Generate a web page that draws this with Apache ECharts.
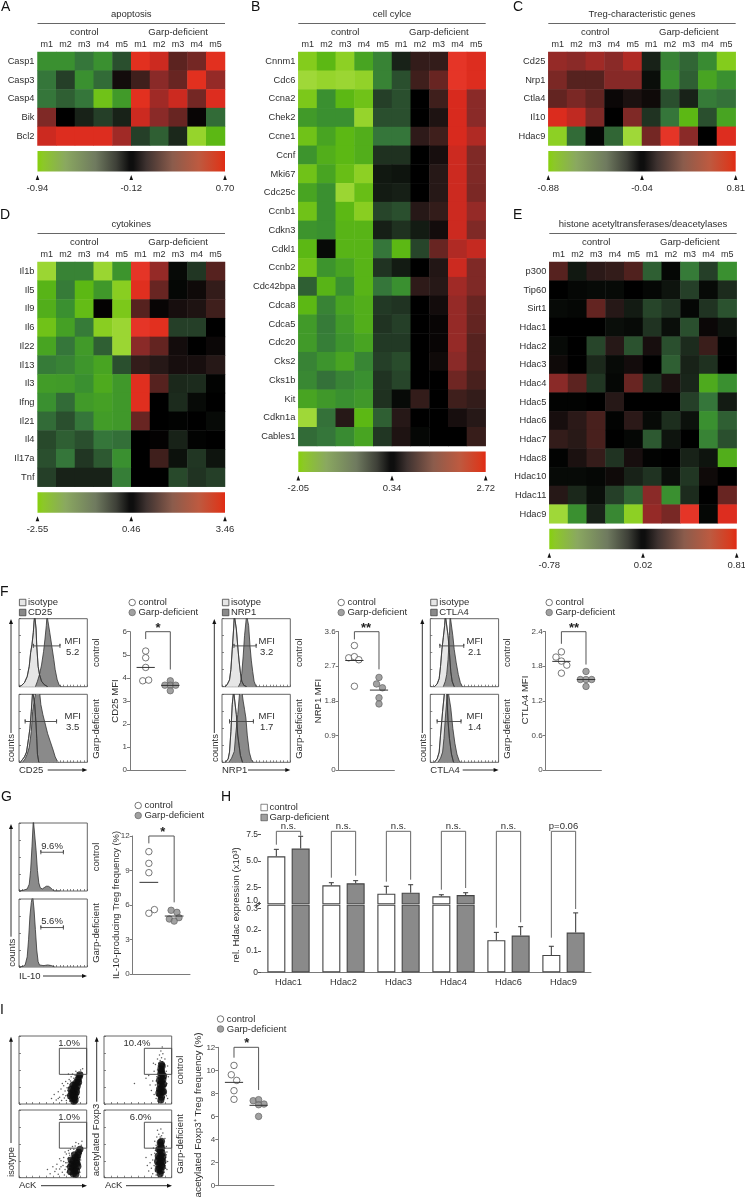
<!DOCTYPE html>
<html><head><meta charset="utf-8">
<style>html,body{margin:0;padding:0;background:#fff}#c{width:745px;height:1197px}</style>
<script src="https://cdn.jsdelivr.net/npm/echarts@6/dist/echarts.min.js"></script>
</head><body><div id="c"></div>
<script>
// ---------- DATA ----------
const mice=['m1','m2','m3','m4','m5','m1','m2','m3','m4','m5'];
// heat levels: -10 brightest green, 0 black, +10 brightest red
const genesA=['Casp1','Casp3','Casp4','Bik','Bcl2'];
const heatA=[
[-5,-5,-4,-5,-2.5,9,7.5,3,4,9],
[-4,-2,-5,-3.5,.5,2,5,3.5,9,5.5],
[-4,-3,-4,-7.5,-5.5,9,6,7.5,4,8.5],
[4.5,0,-1,-2,-1,7.5,5,3.5,.2,-3.5],
[7.5,8.5,8.5,8.5,6,-2,-3,-1.2,-9,-7]];
const genesB=['Cnnm1','Cdc6','Ccna2','Chek2','Ccne1','Ccnf','Mki67','Cdc25c','Ccnb1','Cdkn3','Cdkl1','Ccnb2','Cdc42bpa','Cdca8','Cdca5','Cdc20','Cks2','Cks1b','Kit','Cdkn1a','Cables1'];
const heatB=[
[-8,-7,-8.5,-6,-4.5,-1,1.5,1.5,9.5,8.5],
[-9.5,-9,-9.3,-8.8,-4.5,-2.5,2,3.5,9.5,8.5],
[-7.8,-5,-7,-7.5,-2,-2.5,0,2,8,5],
[-5.5,-5,-5,-9,-2.5,-2.5,0,.8,8,5],
[-7.5,-6,-7,-6.5,-4,-4,1.3,2,8,6.5],
[-5.2,-6.5,-7,-6.5,-1.5,-1.5,0,.6,7.5,4.5],
[-7.5,-6,-7.3,-8.5,-.7,-.6,0,1,7.5,4.5],
[-6,-5,-9.3,-7.3,-.8,-.9,0,1,7.5,4.3],
[-7.5,-5,-7,-8.3,-2.2,-2.5,1,1.5,7.5,5.5],
[-5.2,-5,-6.8,-6.8,-.9,-1.5,-.8,.5,7.5,4.5],
[-7,-.3,-6.8,-6.8,-4,-7,-2.2,3.5,6.5,7.2],
[-7.5,-5.2,-6,-6.8,-1.6,-.8,0,.9,7.5,4.5],
[-3,-6.8,-5,-6.8,-4,-5,1.3,1,6,4.5],
[-7,-4.5,-6,-6.5,-1.8,-1.6,0,.5,5.5,3.5],
[-5.5,-4.2,-5.5,-6.5,-1.6,-2,0,.2,5.5,3.3],
[-5.5,-4.3,-5.2,-6,-1.8,-1.8,0,.2,5.5,2.8],
[-4.5,-5.2,-6,-4.6,-2,-2.4,0,.4,5,2.8],
[-4.7,-3.8,-4.5,-5,-1.6,-2.2,0,0,3.8,2.3],
[-6,-5.4,-5,-5.4,-1.5,-.3,1.5,0,2,1.5],
[-9.5,-3.8,1,-7,-3,1,0,0,.6,1],
[-3.5,-4,-4.8,-6,-1.7,.8,-.2,0,0,1.7]];
const genesC=['Cd25','Nrp1','Ctla4','Il10','Hdac9'];
const heatC=[
[5.5,5,6,5,6.5,-1,-4.5,-3.3,-4.8,-8],
[4.3,2.8,2.8,4.8,4.8,-.4,-5,-3,-6,-5],
[3.3,4.3,3.2,.3,.7,.4,-2.5,-1,-4.2,-3.8],
[8.3,7,4.5,0,4.5,-1.6,-4,-7,-2.5,-6],
[-8.5,-3.5,-.2,-3.3,-9.5,4,9.5,5,0,8.5]];
const genesD=['Il1b','Il5','Il9','Il6','Il22','Il13','Il3','Ifng','Il21','Il4','Il17a','Tnf'];
const heatD=[
[-9.3,-4.5,-4.5,-9.2,-5.2,9.5,5.5,-.3,-1.7,2.8],
[-6.8,-4.2,-7,-5.4,-8.3,8.8,3.5,-.2,.4,1.5],
[-6.5,-5,-7.2,.1,-7.8,2.8,.2,.6,.8,2],
[-7.5,-5.8,-4.2,-8.3,-9.3,9.5,9,-2,-2,0],
[-6,-4,-5.5,-3,-9.3,5,3.3,.5,0,.3],
[-4.2,-4.5,-5.3,-6,-2.5,1.5,1,.6,.6,1],
[-5.6,-5.5,-5,-6.3,-5.4,8.8,2.8,-1.2,-1.3,-.1],
[-5,-3.5,-5.5,-5.8,-5.4,8.8,0,-1.3,-.3,0],
[-3.5,-2.5,-4,-5.6,-5.4,3.5,0,-.1,0,-.3],
[-2.3,-3,-2.5,-4,-3.7,0,.1,-1,-.1,0],
[-2.5,-4,-1.7,-2.8,-5,0,2,-.5,-1.7,-.6],
[-2,-1,-1,-1,-4.3,0,0,-2.3,-1.6,-2]];
const genesE=['p300','Tip60','Sirt1','Hdac1','Hdac2','Hdac3','Hdac4','Hdac5','Hdac6','Hdac7','Hdac8','Hdac10','Hdac11','Hdac9'];
const heatE=[
[2.8,-.7,1.2,1.5,2.6,-3,-.2,-4.2,-2,-5],
[0,-.2,-.3,-.3,0,-.2,-.6,-2,-.3,-1.3],
[-.3,-.2,3.3,1,-.8,-2.2,-1.6,-.2,-1.6,-2.6],
[0,0,0,-.4,-.3,-1.6,-.4,-2.5,.3,-.6],
[-.3,0,-2.2,1,-2.6,.6,-2.5,-1.3,1.8,-.1],
[.4,0,-1.2,-.3,.5,0,-3,-1,-1.5,0],
[5,3,-1.7,-.2,3.5,-1.5,.7,-1.1,-6.3,-5],
[-.1,-.1,0,1,0,0,0,-2,-4,-.8],
[.6,1.2,2.3,-.1,1.2,-.3,-1.4,-.5,-5,-3],
[1.5,1.1,2.3,0,-.2,-2.8,-.6,0,-4.5,-2.5],
[-.1,.7,1.6,-1.6,.6,-.1,0,-1,-.6,-6.5],
[-.3,-.3,-.2,.4,-1,-1.6,-.4,-1.7,.4,0],
[1,-1.2,-.4,-2,-3.2,5,-5,-1.3,0,3.5],
[-9.5,-5,-1,-4.7,-8.5,5.5,4.2,9.5,-.2,8.5]];
const scaleA=['-0.94','-0.12','0.70'], scaleB=['-2.05','0.34','2.72'], scaleC=['-0.88','-0.04','0.81'], scaleD=['-2.55','0.46','3.46'], scaleE=['-0.78','0.02','0.81'];

// histograms [fluorescence %, height %]
const cd25CtrlIso=[[0,0],[4,2],[8,6],[12,15],[15,30],[17,50],[19,62],[21,80],[22,95],[23,105],[24,105],[25,85],[26,60],[28,30],[30,18],[33,8],[37,3],[42,0]];
const cd25CtrlStain=[[24,0],[27,8],[30,18],[33,32],[36,52],[38,70],[40,90],[41,105],[43,105],[45,80],[48,60],[51,40],[53,25],[56,10],[59,2],[62,0]];
const cd25GarpIso=[[2,0],[5,4],[8,8],[11,15],[14,35],[16,50],[18,75],[20,105],[22,105],[23,85],[25,55],[26,35],[27,12],[29,0]];
const cd25GarpStain=[[5,0],[9,5],[12,12],[15,22],[18,45],[20,75],[23,95],[25,105],[30,105],[32,85],[35,70],[38,58],[42,42],[46,30],[50,18],[53,8],[56,2],[58,0]];
const nrp1CtrlIso=[[5,0],[8,4],[11,10],[13,25],[15,55],[17,85],[18,105],[20,105],[21,85],[23,60],[25,38],[27,20],[29,8],[32,2],[36,0]];
const nrp1CtrlStain=[[24,0],[27,6],[29,20],[31,45],[33,75],[35,95],[36,105],[38,105],[39,90],[41,60],[43,38],[45,22],[47,8],[50,0]];
const nrp1GarpIso=[[5,0],[9,5],[11,15],[13,45],[15,85],[17,105],[19,105],[21,70],[23,40],[25,25],[27,10],[30,0]];
const nrp1GarpStain=[[10,0],[14,6],[18,16],[20,40],[23,70],[26,105],[29,105],[31,90],[33,78],[35,65],[37,40],[40,15],[43,4],[46,0]];
const ctla4CtrlIso=[[6,0],[10,4],[13,12],[15,30],[17,55],[19,72],[21,90],[22,105],[24,105],[26,75],[28,50],[30,22],[32,8],[35,0]];
const ctla4CtrlStain=[[19,0],[22,8],[24,18],[26,40],[28,75],[29,105],[31,105],[33,75],[35,55],[38,35],[41,18],[44,6],[47,0]];
const ctla4GarpIso=[[6,0],[10,5],[13,15],[15,40],[18,75],[21,105],[24,105],[26,60],[28,35],[31,12],[34,0]];
const ctla4GarpStain=[[11,0],[15,6],[18,15],[20,35],[22,65],[24,90],[26,105],[28,105],[30,80],[33,50],[36,28],[39,12],[42,3],[44,0]];
const il10CtrlHist=[[0,0],[6,1],[12,3],[15,10],[17,30],[19,65],[21,105],[23,105],[25,60],[27,30],[29,12],[31,5],[34,3],[37,5],[40,7],[43,7],[46,5],[49,2],[52,0],[60,0]];
const il10GarpHist=[[0,0],[6,1],[9,3],[12,15],[14,40],[16,75],[18,95],[20,105],[22,85],[24,55],[26,25],[28,8],[30,3],[36,2],[42,3],[48,2],[52,0]];
// gates [x0,x1,y]
const gatesF=[[21,60,60],[9,55,60],[17.5,50,60],[11,46,60],[14,49,60],[10,45,60]];
const gatesG=[[32,65,57],[32,65,58]];
const mfiText=['5.2','3.5','3.2','1.7','2.1','1.4'];
const il10Text=['9.6%','5.6%'];

// strip plots
const cd25Ctrl=[[1,5.16],[1,4.87],[1,4.45],[.88,3.87],[1.12,3.9]], cd25Garp=[[2,3.87],[1.78,3.68],[2,3.68],[2.22,3.68],[2,3.44]];
const nrp1Ctrl=[[1,3.24],[.77,2.92],[1,2.95],[1.18,2.87],[1,2.18]], nrp1Garp=[[2,2.41],[1.9,2.24],[2.14,2.14],[2,1.88],[2,1.72]];
const ctla4Ctrl=[[1,2.05],[.78,1.96],[1,1.89],[1.22,1.82],[1,1.68]], ctla4Garp=[[2,1.71],[1.77,1.57],[2,1.57],[2.23,1.57],[2,1.45]];
const il10Ctrl=[[1,10.64],[1,9.62],[1,8.81],[1,5.28],[1.22,5.6]], il10Garp=[[1.88,5.54],[2.11,5.36],[2.19,4.9],[1.81,4.78],[2,4.6]];
const ackCtrl=[[1,10.43],[.89,9.62],[1.11,9.13],[1,8.24],[1,7.49]], ackGarp=[[1.78,7.37],[2,7.46],[2.22,7.08],[2,7.02],[2,6.01]];
const means={cd25:[4.45,3.67],nrp1:[2.85,2.08],ctla4:[1.885,1.57],il10:[7.97,5.04],ack:[8.96,6.97]};
const brackets={cd25:[5.68,6,4.36],nrp1:[3.4,3.6,2.62],ctla4:[2.19,2.4,1.83],il10:[11.36,12,6.23],ack:[11.1,12,8.3]};

// Hdac bars
const hdacNames=['Hdac1','Hdac2','Hdac3','Hdac4','Hdac6','Hdac9'];
const hdacCtrl=[5.44,2.72,1.94,1.69,.151,.082], hdacCtrlErr=[6.09,2.97,2.63,1.84,.188,.1225];
const hdacGarp=[6.16,2.91,2.03,1.81,.173,.187], hdacGarpErr=[7.31,3.16,2.78,2.03,.215,.28];
const hdacSig=['n.s.','n.s.','n.s.','n.s.','n.s.','p=0.06'];

// flow dot plots [AcK %, y %], read by eye: dense core + sparse outliers
const gateI=[[59.6,43.6],[100,43.6],[100,81.9],[59.6,81.9],[59.6,43.6]];
const isoTopCore=[[79,8],[80,12],[81,16],[80,20],[82,24],[83,28],[85,32],[87,36],[89,40],[84,22],[85,18],[83,14],[82,10],[78,16],[77,22],[80,28],[86,26],[88,32],[76,12],[83,6],[81,4],[90,43]];
const isoTopDots=[[48,8],[52,14],[55,6],[58,18],[60,10],[62,22],[63,5],[65,14],[66,27],[67,9],[68,19],[69,33],[70,5],[71,13],[71,24],[72,30],[73,8],[73,18],[74,36],[75,4],[75,11],[75,28],[76,34],[77,5],[77,40],[78,8],[79,32],[79,44],[80,5],[81,38],[82,3],[83,42],[84,48],[85,7],[86,13],[87,17],[88,24],[88,30],[89,10],[90,28],[91,36],[91,50],[92,40],[93,46],[94,52],[86,46],[69,12],[64,30],[58,8],[73,44],[74,16],[74,24],[73,12],[72,20],[76,6],[90,34],[91,30],[89,22],[92,34],[87,8],[88,14]];
const isoBotCore=[[80,6],[82,10],[83,14],[81,18],[84,22],[85,26],[86,30],[87,34],[88,38],[90,42],[79,14],[78,20],[80,25],[83,30],[86,21],[87,17],[85,10],[76,9],[77,26],[82,34],[84,5],[76,16]];
const isoBotDots=[[42,12],[46,6],[50,16],[53,9],[56,20],[58,5],[60,13],[62,25],[64,8],[65,18],[66,30],[67,4],[68,12],[69,22],[70,35],[71,8],[72,17],[72,28],[73,40],[74,5],[74,13],[75,33],[76,42],[77,5],[78,36],[79,46],[80,4],[81,42],[83,47],[84,52],[85,4],[87,8],[88,14],[89,22],[90,30],[91,38],[92,48],[93,54],[94,44],[88,50],[55,13],[60,28],[68,38],[70,16],[90,8],[74,24],[62,16],[66,24],[72,10],[71,22],[73,30],[74,36],[90,20],[91,26],[92,36],[89,12]];
const ackTopCore=[[84,6],[85,10],[83,14],[86,18],[84,22],[86,26],[83,29],[85,33],[87,36],[84,40],[86,44],[85,48],[84,52],[86,56],[82,22],[88,29],[82,35],[88,41],[81,16],[88,18],[85,58],[84,46]];
const ackTopDots=[[62,38],[45,30],[70,20],[72,34],[74,14],[74,48],[76,28],[76,58],[77,8],[78,40],[78,20],[79,50],[79,66],[80,30],[80,4],[81,60],[82,72],[83,64],[84,78],[85,3],[85,68],[86,62],[87,74],[88,58],[89,10],[89,50],[90,66],[90,26],[91,38],[91,16],[92,48],[93,30],[94,56],[94,8],[95,40],[73,60],[68,28],[66,42],[86,84],[82,52],[78,12],[77,34],[79,44],[80,56],[91,22],[91,44],[92,12],[92,28]];
const ackBotCore=[[83,6],[84,10],[82,14],[85,18],[83,22],[85,26],[82,29],[84,33],[86,36],[83,40],[85,44],[84,48],[83,52],[81,20],[87,24],[80,32],[86,16],[80,12],[87,31],[81,42],[85,54],[79,24]];
const ackBotDots=[[66,10],[68,22],[70,14],[70,34],[72,6],[72,26],[73,44],[74,18],[75,36],[75,54],[76,10],[76,28],[77,48],[77,4],[78,60],[78,22],[79,38],[79,70],[80,52],[80,8],[81,64],[82,5],[83,60],[84,72],[85,3],[85,62],[86,54],[87,66],[88,48],[89,8],[89,40],[90,58],[90,18],[91,30],[92,46],[93,12],[93,38],[94,24],[62,30],[64,18],[76,16],[76,40],[77,30],[78,44],[91,14],[91,22],[92,34],[90,44]];

// ---------- BUILDERS ----------
const FF='"Liberation Sans",Arial,Helvetica,sans-serif', INK='#2e2e2e', AX='#7a7a7a';
const grids=[],xAxes=[],yAxes=[],series=[],legends=[],gfx=[];
function addGrid(r,xa,ya){const i=grids.length;grids.push({left:r[0],top:r[1],width:r[2],height:r[3],show:!!r[4],borderColor:r[4]||undefined,borderWidth:1,backgroundColor:'transparent'});
  xAxes.push(Object.assign({gridIndex:i},xa));yAxes.push(Object.assign({gridIndex:i},ya));return i;}
function T(t,x,y,o={}){gfx.push({type:'text',x,y,rotation:o.rot||0,silent:true,z:50,style:{text:t,fontSize:o.size||9.5,fontWeight:o.bold?'bold':'normal',fontFamily:FF,fill:o.color||INK,textAlign:o.align||'center',textVerticalAlign:'middle'}});}
function L(pts,o={}){gfx.push({type:'polyline',silent:true,z:o.z||40,shape:{points:pts},style:{stroke:o.color||'#555',lineWidth:o.w||1,fill:'none'}});}
function P(pts,c){gfx.push({type:'polygon',silent:true,z:40,shape:{points:pts},style:{fill:c||'#111'}});}
function arrowUp(x,yb,yt){L([[x,yb],[x,yt+3]],{color:'#333'});P([[x,yt],[x-2,yt+5],[x+2,yt+5]]);}
function arrowRight(xa,xb,y){L([[xa,y],[xb-3,y]],{color:'#333'});P([[xb,y],[xb-5,y-2],[xb-5,y+2]]);}
const ROT=Math.PI/2;
const heatIdx=[];
function heat(title,genes,z,scale,r){
  const [x,y,w,h]=r, g=addGrid([x,y,w,h],
    {type:'category',data:mice,position:'top',axisLine:{show:false},axisTick:{show:false},splitLine:{show:false},splitArea:{show:false},axisLabel:{interval:0,margin:2.5,fontSize:9,fontFamily:FF,color:INK}},
    {type:'category',data:genes,inverse:true,axisLine:{show:false},axisTick:{show:false},splitLine:{show:false},splitArea:{show:false},axisLabel:{interval:0,margin:3,fontSize:9.3,fontFamily:FF,color:INK}});
  const data=[];z.forEach((row,ri)=>row.forEach((v,ci)=>data.push([ci,ri,v])));
  heatIdx.push(series.length);
  series.push({type:'heatmap',name:title,xAxisIndex:g,yAxisIndex:g,data,silent:true,itemStyle:{borderWidth:0},progressive:0});
  T(title,x+w/2,y-38); L([[x,y-28.5],[x+w,y-28.5]],{color:'#666',w:1});
  T('control',x+w/4,y-20); T('Garp-deficient',x+3*w/4,y-20);
  const b=y+h+5.5,bh=20.5;
  gfx.push({type:'rect',silent:true,shape:{x,y:b,width:w,height:bh},style:{fill:new echarts.graphic.LinearGradient(0,0,1,0,[
    {offset:0,color:'#86cf0e'},{offset:.03,color:'#8cc828'},{offset:.15,color:'#8aa860'},{offset:.31,color:'#6f7a5f'},{offset:.42,color:'#3e4038'},{offset:.49,color:'#0e0e0e'},{offset:.51,color:'#0e0e0e'},{offset:.58,color:'#3e3230'},{offset:.72,color:'#8b5c4c'},{offset:.86,color:'#bd5a40'},{offset:.97,color:'#d93a1e'},{offset:1,color:'#e02a14'}])}});
  [0,.5,1].forEach((f,i)=>{const tx=x+w*f;P([[tx,b+bh+3.5],[tx-1.8,b+bh+8.5],[tx+1.8,b+bh+8.5]]);T(scale[i],tx,b+bh+16.5,{size:9.5});});
}
function histAxes(){return [
  {type:'value',min:0,max:100,interval:5,axisLine:{show:false},axisTick:{show:true,inside:true,length:2,lineStyle:{color:'#555',width:.7}},axisLabel:{show:false},splitLine:{show:false}},
  {type:'value',min:0,max:100,interval:25,axisLine:{show:false},axisTick:{show:true,inside:true,length:2,lineStyle:{color:'#555',width:.7}},axisLabel:{show:false},splitLine:{show:false}}];}
function area(g,name,pts,fill,line,w){series.push({type:'line',name,xAxisIndex:g,yAxisIndex:g,data:pts,symbol:'none',silent:true,lineStyle:{color:line,width:w===undefined?.8:w},itemStyle:{color:fill},areaStyle:fill?{color:fill,opacity:1}:undefined});}
function lineS(g,pts,o={}){series.push({type:'line',xAxisIndex:g,yAxisIndex:g,data:pts,symbol:'none',silent:true,clip:false,lineStyle:{color:o.color||'#333',width:o.w||1},z:o.z||3});}
function gateLine(g,gt){const [a,b,y]=gt,c=3;lineS(g,[[a,y-c],[a,y+c],[a,y],[b,y],[b,y+c],[b,y-c]],{color:'#444',w:.9,z:5});}
function hist(r,iso,stain,gt,stName){
  const [a,b]=histAxes(),g=addGrid(r.concat('#666'),a,b);
  area(g,'isotype',iso,'#e6e6e6','#444');
  area(g,stName,stain,'#8a8a8a','#333');
  area(g,'isotype outline',iso,null,'#333',.8);
  gateLine(g,gt);
}
function squareLegend(x,y,names,cols){legends.push({left:x,top:y,orient:'vertical',padding:0,itemGap:0,itemWidth:6.5,itemHeight:6.5,icon:'rect',selectedMode:false,textStyle:{fontSize:9.5,fontFamily:FF,color:INK,padding:[0,0,0,-3]},
  data:names.map((n,i)=>({name:n,icon:'rect',itemStyle:{color:cols[i],borderColor:'#444',borderWidth:.8}}))});}
function circleLegend(x,y){legends.push({left:x,top:y,orient:'vertical',padding:0,itemGap:0,itemWidth:6.5,itemHeight:6.5,selectedMode:false,textStyle:{fontSize:9.5,fontFamily:FF,color:INK,padding:[0,0,0,-2]},
  data:[{name:'control',icon:'circle',itemStyle:{color:'#fff',borderColor:'#444',borderWidth:.9}},{name:'Garp-deficient',icon:'circle',itemStyle:{color:'#8a8a8a',borderColor:'#666',borderWidth:.9}}]});}
function strip(r,ctrl,garp,yMax,yInt,mean,br,star,ylab,yl,ySize){
  const g=addGrid(r,
    {type:'value',min:r[4],max:r[5],axisLine:{show:true,onZero:false,lineStyle:{color:AX,width:1}},axisTick:{show:false},axisLabel:{show:false},splitLine:{show:false}},
    {type:'value',min:0,max:yMax,interval:yInt,axisLine:{show:true,onZero:false,lineStyle:{color:AX,width:1}},axisTick:{show:true,length:3,lineStyle:{color:AX}},axisLabel:{fontSize:8,margin:3,fontFamily:FF,color:'#444'},splitLine:{show:false}});
  grids[g].show=false;
  lineS(g,[[1,br[0]],[1,br[1]],[2,br[1]],[2,br[2]]],{color:'#555'});
  const hw=.37;
  lineS(g,[[1-hw,mean[0]],[1+hw,mean[0]]],{z:6}); lineS(g,[[2-hw,mean[1]],[2+hw,mean[1]]],{z:6});
  series.push({type:'scatter',name:'control',xAxisIndex:g,yAxisIndex:g,data:ctrl,symbol:'circle',symbolSize:6.5,silent:true,z:4,itemStyle:{color:'#fff',borderColor:'#444',borderWidth:.9}});
  series.push({type:'scatter',name:'Garp-deficient',xAxisIndex:g,yAxisIndex:g,data:garp,symbol:'circle',symbolSize:6.5,silent:true,z:4,itemStyle:{color:'#8a8a8a',borderColor:'#666',borderWidth:.9}});
  T(star[0],star[1],star[2],{size:13,bold:true,color:'#222'});
  T(ylab,yl[0],yl[1],{rot:ROT,size:ySize});
}
function flow(r,core,dots){
  const [a,b]=histAxes();a.interval=10;const g=addGrid(r.concat('#666'),a,b);
  lineS(g,gateI,{color:'#444',w:.9,z:6});
  series.push({type:'scatter',xAxisIndex:g,yAxisIndex:g,data:dots,symbol:'circle',symbolSize:1.5,silent:true,itemStyle:{color:'#333'}});
  series.push({type:'scatter',xAxisIndex:g,yAxisIndex:g,data:core,symbol:'circle',symbolSize:7,silent:true,itemStyle:{color:'#0c0c0c'}});
}
// ---------- LAYOUT ----------
heat('apoptosis',genesA,heatA,scaleA,[37.5,52,187.5,93.5]);
heat('cell cylce',genesB,heatB,scaleB,[298.3,52,187.4,394]);
heat('Treg-characteristic genes',genesC,heatC,scaleC,[548.3,52,187.4,93.5]);
heat('cytokines',genesD,heatD,scaleD,[37.5,262,187.5,224.7]);
heat('histone acetyltransferases/deacetylases',genesE,heatE,scaleE,[549.3,262,187.4,261.3]);
[['A',1,7],['B',251,7],['C',513,7],['D',0,215],['E',513,215],['F',0,592],['G',1,797],['H',221,797],['I',0,1010]].forEach(a=>T(a[0],a[1],a[2],{size:14,align:'left',color:'#111'}));

// F histograms
[[0,'CD25',cd25CtrlIso,cd25CtrlStain,cd25GarpIso,cd25GarpStain,19,132,72.7,96,11,47.7],
 [1,'NRP1',nrp1CtrlIso,nrp1CtrlStain,nrp1GarpIso,nrp1GarpStain,222,341,266.7,299.3,214.3,248],
 [2,'CTLA4',ctla4CtrlIso,ctla4CtrlStain,ctla4GarpIso,ctla4GarpStain,430.3,549,474.7,507,422.3,462.7]]
.forEach(c=>{const [i,nm,a,b,d,e,x,lc,mx,rx,ax,xa]=c;
  hist([x,618.7,68.3,68],a,b,gatesF[i*2],nm);
  hist([x,694.3,68.3,68],d,e,gatesF[i*2+1],nm);
  squareLegend(x,597.5,['isotype',nm],['#e6e6e6','#8a8a8a']);
  circleLegend(lc-3.5,597.5);
  T('MFI',mx,641);T(mfiText[i*2],mx,652);T('MFI',mx,716.7);T(mfiText[i*2+1],mx,727.7);
  T('control',rx,652.7,{rot:ROT});T('Garp-deficient',rx,729,{rot:ROT});
  arrowUp(ax,733,619);T('counts',ax+.8,748,{rot:ROT});
  T(nm,x,770,{align:'left'});arrowRight(xa,x+68.3,770);
});
const xr=[.362,2.626];
strip([130,631.7,55.7,138.3,...xr],cd25Ctrl,cd25Garp,6,1,means.cd25,brackets.cd25,['*',158,628.5],'CD25 MFI',[115,701],9.5);
strip([338.7,631.7,55.7,138.3,...xr],nrp1Ctrl,nrp1Garp,3.6,.9,means.nrp1,brackets.nrp1,['**',366,628.5],'NRP1 MFI',[318,701],9.5);
strip([545.7,631.7,55.7,138.3,...xr],ctla4Ctrl,ctla4Garp,2.4,.6,means.ctla4,brackets.ctla4,['**',574,628.5],'CTLA4 MFI',[525.7,700],9.5);

// G
[[823,il10CtrlHist,gatesG[0],846,il10Text[0]],[899,il10GarpHist,gatesG[1],921,il10Text[1]]].forEach(c=>{
  const [a,b]=histAxes(),g=addGrid([19,c[0],68.3,68,'#666'],a,b);
  area(g,'IL-10',c[1],'#8a8a8a','#333');gateLine(g,c[2]);T(c[4],52,c[3]);});
T('control',96.7,857,{rot:ROT});T('Garp-deficient',96.7,933,{rot:ROT});
arrowUp(11,936.7,824);T('counts',12,952.7,{rot:ROT});
T('IL-10',19,976,{align:'left'});arrowRight(43,87,976);
circleLegend(134.5,800.5);
strip([132.7,836,57.3,138,...xr],il10Ctrl,il10Garp,12,3,means.il10,brackets.il10,['*',162.7,832],'IL-10-producing Treg frequency (%)',[116,905],9.4);

// H bars
const hx=261,hw=330,catW=hw/6;
const lowTop=905.3,lowBot=972.3,upTop=834.3,upBot=903.7;
const axBar={type:'category',data:hdacNames,axisTick:{show:false},splitLine:{show:false}};
const yH={type:'value',axisLine:{show:false},axisTick:{show:true,length:3,lineStyle:{color:'#555'}},splitLine:{show:false}};
const gUp=addGrid([hx,upTop,hw,upBot-upTop],Object.assign({},axBar,{axisLine:{show:false},axisLabel:{show:false}}),
  Object.assign({},yH,{min:1,max:7.5,axisTick:{show:true,length:3,customValues:[1,2.5,5,7.5],lineStyle:{color:'#555'}},axisLabel:{customValues:[1,2.5,5,7.5],formatter:v=>v===1?'{a|1.0}':v.toFixed(1),rich:{a:{fontSize:8.5,fontFamily:FF,color:INK,padding:[0,0,7,0]}},fontSize:8.5,margin:3,fontFamily:FF,color:INK}}));
const gLo=addGrid([hx,lowTop,hw,lowBot-lowTop],Object.assign({},axBar,{axisLine:{show:true,lineStyle:{color:AX,width:1}},axisLabel:{interval:0,margin:6,fontSize:9.3,fontFamily:FF,color:INK}}),
  Object.assign({},yH,{min:0,max:.3157,axisTick:{show:true,length:3,customValues:[0,.1,.2,.3],lineStyle:{color:'#555'}},axisLabel:{customValues:[0,.1,.2,.3],fontSize:8.5,margin:3,fontFamily:FF,color:INK}}));
const cOff=12.15;
function errS(g,tops,errs,off,keep){series.push({type:'custom',xAxisIndex:g,yAxisIndex:g,silent:true,z:5,encode:{x:0,y:[1,2]},clip:false,
  data:tops.map((t,i)=>[i,t,errs[i]]).filter(d=>keep(d[1])),
  renderItem:(p,api)=>{const a=api.coord([api.value(0),api.value(1)]),b=api.coord([api.value(0),api.value(2)]),x=a[0]+off,st={stroke:'#444',lineWidth:1.1};
    return {type:'group',children:[{type:'line',shape:{x1:x,y1:a[1],x2:x,y2:b[1]},style:st},{type:'line',shape:{x1:x-2.5,y1:b[1],x2:x+2.5,y2:b[1]},style:st}]};}});}
[[gUp,v=>v>=1?v:'-',v=>v>=1],[gLo,v=>v,v=>v<1]].forEach(([g,f,keep])=>{
  series.push({type:'bar',name:'control',xAxisIndex:g,yAxisIndex:g,data:hdacCtrl.map(f),barWidth:18,barGap:'35%',silent:true,itemStyle:{color:'#fff',borderColor:'#444',borderWidth:1.1}});
  series.push({type:'bar',name:'Garp-deficient',xAxisIndex:g,yAxisIndex:g,data:hdacGarp.map(f),barWidth:18,barGap:'35%',silent:true,itemStyle:{color:'#8a8a8a',borderColor:'#444',borderWidth:1.1}});
  errS(g,hdacCtrl,hdacCtrlErr,-cOff,keep);errS(g,hdacGarp,hdacGarpErr,cOff,keep);
});
squareLegend(260.5,802.5,['control','Garp-deficient'],['#fff','#8a8a8a']);
const brTop=831.3, brBot=[[844.7,835.7],[877.7,875.7],[881.7,879.7],[889.7,888],[927.7,922.3],[937.7,909]];
hdacSig.forEach((s,i)=>{const c=hx+catW*(i+.5);L([[c-cOff,brBot[i][0]],[c-cOff,brTop],[c+cOff,brTop],[c+cOff,brBot[i][1]]],{color:'#666'});T(s,c,826);});
L([[255.5,905],[260,902]],{color:'#333'});L([[255.5,907],[260,904]],{color:'#333'});
T('rel. Hdac expression (x10³)',236,905,{rot:ROT,size:9.6});

// I
flow([19,1036,67.7,68],isoTopCore,isoTopDots);
flow([19,1110,67.7,67.7],isoBotCore,isoBotDots);
flow([104,1036,67.7,68],ackTopCore,ackTopDots);
flow([104,1110,67.7,67.7],ackBotCore,ackBotDots);
T('1.0%',69,1043);T('10.4%',137,1043);T('1.0%',69,1117.7);T('6.0%',140.7,1117.7);
arrowUp(11,1143,1036.7);T('isotype',11,1162,{rot:ROT});
arrowUp(96.7,1101.7,1036.7);T('acetylated Foxp3',96.7,1140,{rot:ROT});
T('AcK',19,1185.7,{align:'left'});arrowRight(41,87,1185.7);
T('AcK',105,1185.7,{align:'left'});arrowRight(126,172,1185.7);
T('control',180,1070,{rot:ROT});T('Garp-deficient',180,1144,{rot:ROT});
circleLegend(216.8,1014);
strip([218.3,1047.3,55.7,138.4,...xr],ackCtrl,ackGarp,12,2,means.ack,brackets.ack,['*',246.7,1043],'acetylated Foxp3⁺ Treg frequency (%)',[198.3,1115],9.9);

const chart=echarts.init(document.getElementById('c'),null,{renderer:'canvas'});
chart.setOption({animation:false,backgroundColor:'#fff',grid:grids,xAxis:xAxes,yAxis:yAxes,series,legend:legends,
  tooltip:{show:false},
  visualMap:[{type:'continuous',show:false,seriesIndex:heatIdx,dimension:2,min:-10,max:10,
    inRange:{color:['#a8dc44','#96d42c','#84cc1c','#5cb814','#48a422','#3a9030','#35763a','#2f5f33','#253f28','#182218','#000000','#261817','#3f1f1c','#5c2320','#742724','#8a2a28','#a02a26','#c02a22','#d82a1e','#e2301f','#e8392e']}}],
  graphic:{elements:gfx}});
</script></body></html>
